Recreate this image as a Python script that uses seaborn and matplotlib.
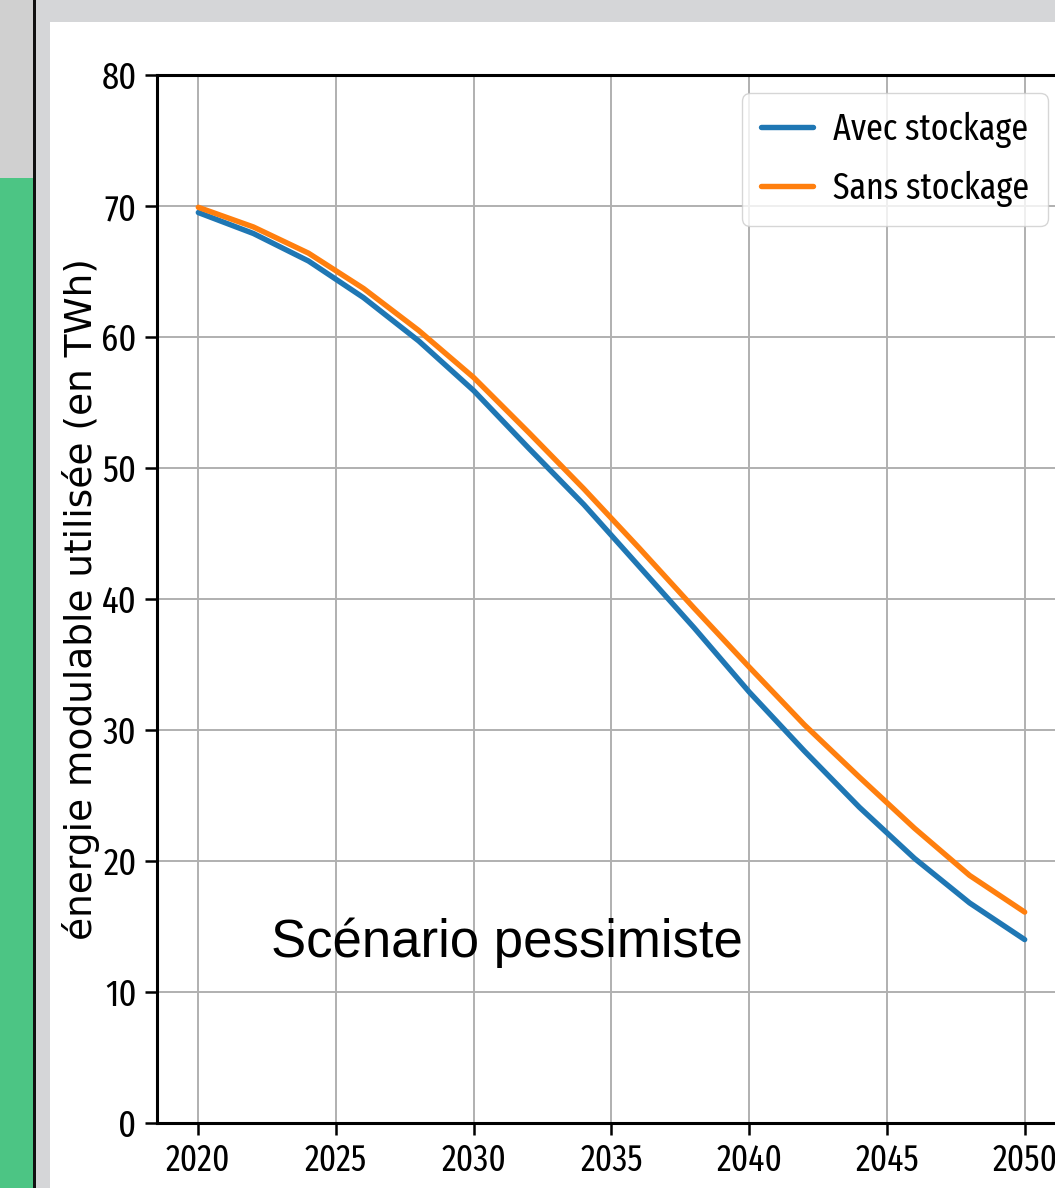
import matplotlib
matplotlib.use("Agg")
import os
import matplotlib.pyplot as plt
from matplotlib import font_manager
from matplotlib.font_manager import FontProperties
from matplotlib.patches import Rectangle
import seaborn as sns
import pandas as pd

# ---- data ----
years = [2020, 2022, 2024, 2026, 2028, 2030, 2032, 2034, 2036, 2038, 2040, 2042, 2044, 2046, 2048, 2050]
avec_stockage = [69.5, 67.9, 65.8, 63.0, 59.7, 55.9, 51.5, 47.2, 42.5, 37.8, 32.9, 28.4, 24.1, 20.2, 16.8, 14.0]
sans_stockage = [69.9, 68.4, 66.4, 63.7, 60.5, 56.9, 52.7, 48.4, 43.9, 39.3, 34.8, 30.4, 26.4, 22.5, 18.9, 16.1]
series_names = ["Avec stockage", "Sans stockage"]
series_colors = ["#1f77b4", "#ff7f0e"]
ylabel = "énergie modulable utilisée (en TWh)"
annotation = "Scénario pessimiste"
yticks = [0, 10, 20, 30, 40, 50, 60, 70, 80]
xticks = [2020, 2025, 2030, 2035, 2040, 2045, 2050]

df = pd.DataFrame({
    "année": years * 2,
    "valeur": avec_stockage + sans_stockage,
    "série": [series_names[0]] * len(years) + [series_names[1]] * len(years),
})

sns.set_theme(style="ticks")
plt.rcParams["font.family"] = ["DejaVu Sans"]
plt.rcParams["text.color"] = "black"
plt.rcParams["axes.labelcolor"] = "black"


# find the narrowest regular-weight condensed font that is installed
def find_narrow():
    bad = ("bold", "italic", "oblique", "light", "thin", "black", "medium", "heavy", "mono")
    best, best_score = None, -1
    for f in font_manager.fontManager.ttflist:
        base = os.path.basename(f.fname).lower()
        name = f.name.lower()
        if any(b in base for b in bad):
            continue
        if "italic" in str(f.style) or "oblique" in str(f.style):
            continue
        score = 0
        if "extracondensed" in base or "extra-condensed" in base or f.stretch == "extra-condensed":
            score = 10
        elif "semicondensed" in base or "semi-condensed" in base or f.stretch == "semi-condensed":
            score = 3
        elif "condensed" in base or "narrow" in base or "condensed" in name or "narrow" in name \
                or f.stretch == "condensed":
            score = 6
        if score == 0:
            continue
        if "notosans" in base.replace(" ", "") or "dejavu" in base or "liberation" in base:
            score += 1
        if score > best_score:
            best, best_score = f.fname, score
    return best, best_score


narrow_path, narrow_score = find_narrow()
if narrow_path and narrow_score >= 10:
    xtick_fp = FontProperties(fname=narrow_path, size=26)
    ytick_fp = FontProperties(fname=narrow_path, size=27)
    leg_fp = FontProperties(fname=narrow_path, size=26.5)
elif narrow_path:
    xtick_fp = FontProperties(fname=narrow_path, size=23.5)
    ytick_fp = FontProperties(fname=narrow_path, size=24.5)
    leg_fp = FontProperties(fname=narrow_path, size=24)
else:
    xtick_fp = FontProperties(family="DejaVu Sans", stretch="condensed", size=22)
    ytick_fp = FontProperties(family="DejaVu Sans", stretch="condensed", size=23)
    leg_fp = FontProperties(family="DejaVu Sans", stretch="condensed", size=23)

W, H = 1055, 1188
fig = plt.figure(figsize=(W / 100, H / 100), dpi=100)
fig.patch.set_facecolor("white")


# screenshot surroundings
def frect(x0, y0, x1, y1, color):
    fig.patches.append(Rectangle((x0 / W, 1 - y1 / H), (x1 - x0) / W, (y1 - y0) / H,
                                 transform=fig.transFigure, facecolor=color,
                                 edgecolor="none", zorder=0))


frect(0, 0, W, 22, "#d5d6d8")
frect(0, 0, 50, H, "#d5d6d8")
frect(0, 0, 34, 178, "#d0d0d0")
frect(0, 178, 34, H, "#4cc584")
frect(33, 0, 36, H, "#111111")

ax = fig.add_axes([157 / W, 65 / H, (1066 - 157) / W, (1123 - 75) / H])
ax.set_facecolor("white")

sns.lineplot(data=df, x="année", y="valeur", hue="série", palette=series_colors,
             linewidth=3.9, ax=ax)

ax.set_xlim(2018.5, 2051.5)
ax.set_ylim(0, 80)
ax.set_xticks(xticks)
ax.set_yticks(yticks)
ax.set_xlabel("")
ax.set_ylabel(ylabel, fontsize=27, family="DejaVu Sans", color="black")
ax.yaxis.set_label_coords((100 - 157) / 909, 0.5)
ax.grid(True, color="#b0b0b0", linewidth=1.4)
ax.set_axisbelow(True)
for s in ["left", "bottom", "top"]:
    ax.spines[s].set_linewidth(2.2)
    ax.spines[s].set_color("black")
ax.spines["right"].set_visible(False)
ax.tick_params(axis="both", length=8.6, width=1.8, pad=6, colors="black")
for lab in ax.get_xticklabels():
    lab.set_fontproperties(xtick_fp)
for lab in ax.get_yticklabels():
    lab.set_fontproperties(ytick_fp)

ax.text(2022.65, 12.7, annotation, fontsize=38, family="Liberation Sans",
        ha="left", va="baseline", color="black")

leg = ax.legend(loc="upper right", prop=leg_fp, handlelength=1.42, handletextpad=0.55,
                labelspacing=0.62, borderpad=0.5,
                borderaxespad=0.5, frameon=True, framealpha=0.8, edgecolor="#cccccc",
                fancybox=True)
for t in leg.get_texts():
    t.set_color("black")
for l in leg.get_lines():
    l.set_linewidth(3.9)

fig.savefig("out.png", dpi=100)
